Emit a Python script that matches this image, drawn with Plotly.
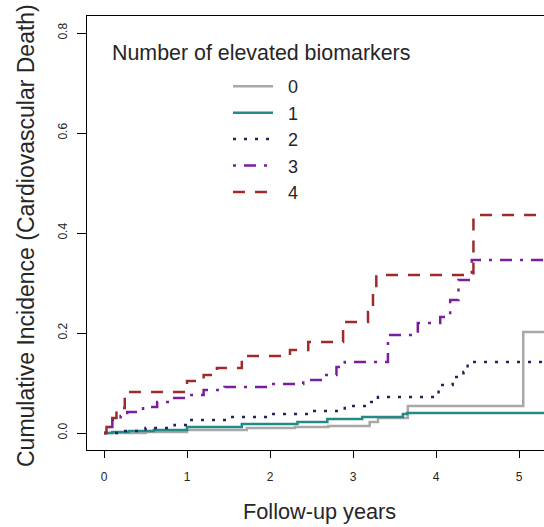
import plotly.graph_objects as go

# ---- data ----
groups = ["0", "1", "2", "3", "4"]

t0 = [0, 0.5, 1.0, 1.72, 2.3, 2.7, 3.2, 3.3, 3.66, 5.05, 5.4]
ci0 = [0, 0.002, 0.006, 0.010, 0.012, 0.014, 0.022, 0.030, 0.054, 0.202, 0.202]

t1 = [0, 0.1, 0.3, 0.6, 1.0, 1.66, 2.33, 2.69, 3.11, 3.6, 3.65, 5.4]
ci1 = [0, 0.002, 0.004, 0.006, 0.012, 0.018, 0.022, 0.028, 0.032, 0.038, 0.040, 0.040]

t2 = [0, 0.2, 0.5, 0.85, 1.0, 1.5, 2.0, 2.5, 2.9, 3.2, 3.3, 4.03, 4.2, 4.33, 4.38, 5.4]
ci2 = [0, 0.004, 0.010, 0.016, 0.026, 0.032, 0.038, 0.044, 0.054, 0.062, 0.072, 0.096, 0.112, 0.122, 0.142, 0.142]

t3 = [0, 0.05, 0.1, 0.2, 0.28, 0.47, 0.64, 0.8, 1.0, 1.2, 1.45, 2.0, 2.4, 2.65, 2.8, 2.9,
      3.42, 3.78, 4.05, 4.17, 4.27, 4.43, 5.4]
ci3 = [0, 0.012, 0.026, 0.034, 0.042, 0.052, 0.062, 0.070, 0.076, 0.086, 0.092, 0.098, 0.106,
       0.116, 0.132, 0.142, 0.196, 0.220, 0.232, 0.266, 0.306, 0.346, 0.346]

t4 = [0, 0.03, 0.1, 0.15, 0.25, 1.0, 1.2, 1.36, 1.66, 2.24, 2.46, 2.88, 3.18, 3.24, 3.28, 4.45, 5.4]
ci4 = [0, 0.012, 0.030, 0.050, 0.082, 0.104, 0.116, 0.130, 0.154, 0.166, 0.182, 0.222, 0.242,
       0.286, 0.316, 0.436, 0.436]

x_ticks = [0, 1, 2, 3, 4, 5]
y_ticks = [0.0, 0.2, 0.4, 0.6, 0.8]
y_tick_text = ["0.0", "0.2", "0.4", "0.6", "0.8"]

series = [(t0, ci0), (t1, ci1), (t2, ci2), (t3, ci3), (t4, ci4)]
colors = ["#A8A8A8", "#238A86", "#22225E", "#7B1E9E", "#9E2B2B"]
dashes = ["solid", "solid", "3px,8px", "3px,8px,12px,8px", "12px,10px"]

FONT = "Liberation Sans, Arial, sans-serif"
TXT = "#262626"
NB = "\u00a0\u00a0"

fig = go.Figure()
for name, (t, ci), c, d in zip(groups, series, colors, dashes):
    fig.add_trace(go.Scatter(
        x=t, y=ci, mode="lines", name=NB + name,
        line=dict(color=c, width=2.5, dash=d, shape="hv"),
    ))

fig.update_layout(
    width=544, height=527,
    margin=dict(l=87, r=0, t=16, b=77),
    paper_bgcolor="white", plot_bgcolor="white",
    font=dict(family=FONT, color=TXT),
    showlegend=True,
    legend=dict(
        x=(228 - 87) / 457, y=0.88, xanchor="left", yanchor="top",
        bgcolor="rgba(0,0,0,0)", borderwidth=0,
        font=dict(size=18, family=FONT, color=TXT),
        itemwidth=40, tracegroupgap=0,
    ),
    xaxis=dict(
        range=[-0.205, 5.30], showgrid=False, zeroline=False,
        showline=True, linecolor="black", linewidth=1, mirror=True,
        ticks="outside", ticklen=7, tickcolor="black", tickwidth=1,
        tickvals=x_ticks, ticktext=[str(v) for v in x_ticks],
        tickfont=dict(size=12, family=FONT, color=TXT),
        ticklabelstandoff=9,
    ),
    yaxis=dict(
        range=[-0.034, 0.834], showgrid=False, zeroline=False,
        showline=True, linecolor="black", linewidth=1, mirror=False,
        ticks="outside", ticklen=9, tickcolor="black", tickwidth=1,
        tickvals=y_ticks, ticktext=y_tick_text, tickangle=-90,
        tickfont=dict(size=12, family=FONT, color=TXT),
        ticklabelstandoff=5,
    ),
    annotations=[
        dict(text="Number of elevated biomarkers", xref="paper", yref="paper",
             x=(110 - 87) / 457, y=1 - (53 - 16) / 434, xanchor="left", yanchor="middle",
             showarrow=False, font=dict(size=21.4, family=FONT, color=TXT)),
        dict(text="Follow-up years", xref="paper", yref="paper",
             x=(319 - 87) / 457, y=-(511 - 450) / 434, xanchor="center", yanchor="middle",
             showarrow=False, font=dict(size=21.7, family=FONT, color=TXT)),
        dict(text="Cumulative Incidence (Cardiovascular Death)", xref="paper", yref="paper",
             x=-(87 - 26) / 457, y=1 - (236 - 16) / 434, xanchor="center", yanchor="middle",
             textangle=-90,
             showarrow=False, font=dict(size=23, family=FONT, color=TXT)),
    ],
)

fig.write_html("out.html")
